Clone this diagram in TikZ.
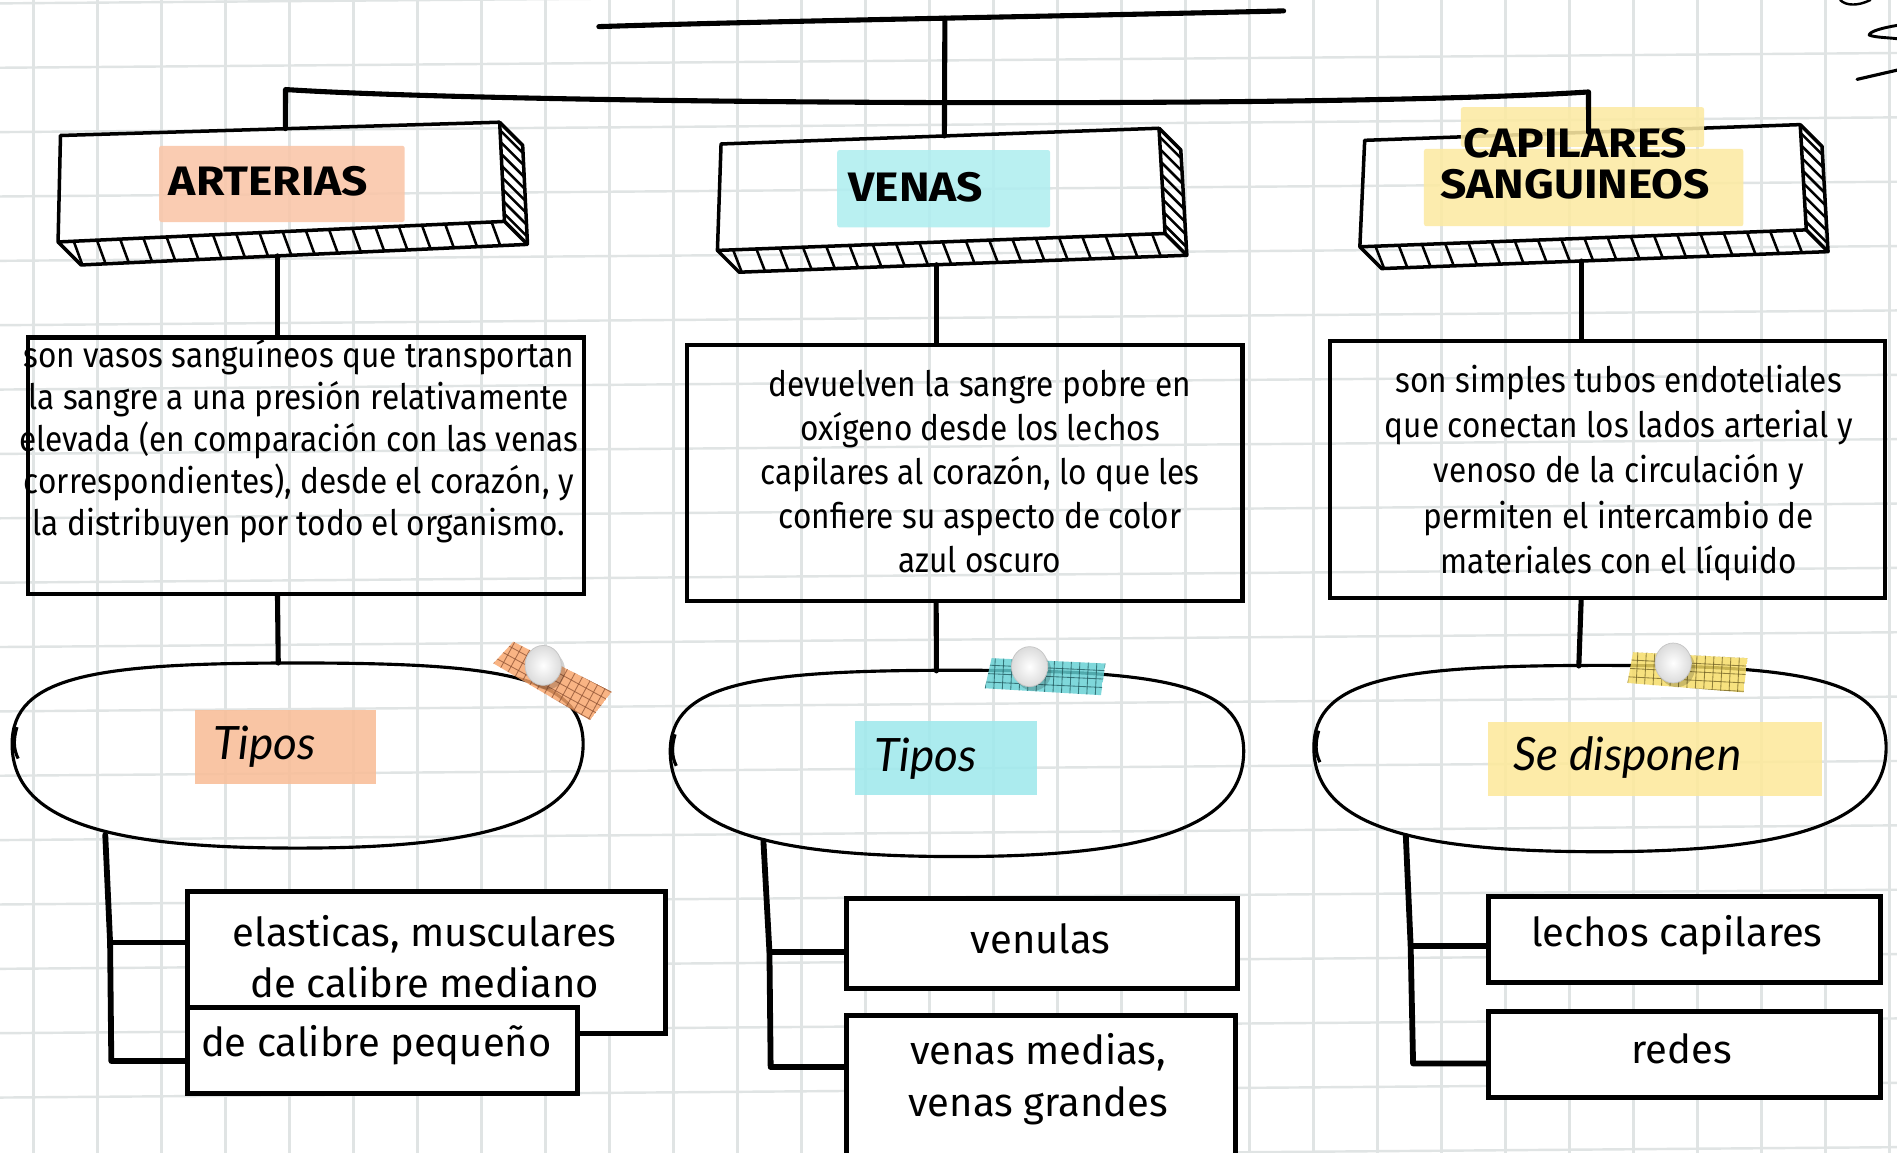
\documentclass[tikz,border=0pt]{standalone}
\usepackage{fontspec}
\newfontfamily\bodyf{Fira Sans}[FakeStretch=0.9]
\newfontfamily\boxf{Fira Sans}
\newfontfamily\titlef{Fira Sans}[FakeStretch=1.12]
\newfontfamily\handf{Lato}
\usetikzlibrary{calc}
\definecolor{gridc}{RGB}{224,228,228}
\definecolor{peach}{RGB}{250,198,168}
\definecolor{peachb}{RGB}{249,190,152}
\definecolor{cyanl}{RGB}{176,238,240}
\definecolor{cyanb}{RGB}{160,233,236}
\definecolor{yell}{RGB}{252,234,163}
\definecolor{yellb}{RGB}{253,233,156}
\definecolor{tapeo}{RGB}{248,164,106}
\definecolor{tapeog}{RGB}{140,80,50}
\definecolor{tapec}{RGB}{100,208,212}
\definecolor{tapecg}{RGB}{30,85,90}
\definecolor{tapey}{RGB}{246,220,100}
\definecolor{tapeyg}{RGB}{110,95,35}

\newcommand\drawslab[7]{%
  \coordinate (#1-tl) at #2; \coordinate (#1-tr) at #3;
  \coordinate (#1-br) at #4; \coordinate (#1-bl) at #5;
  \coordinate (#1-trb) at ($(#1-tr)+(#6,#7)$);
  \coordinate (#1-brb) at ($(#1-br)+(#6,#7)$);
  \coordinate (#1-blb) at ($(#1-bl)+(#6,#7)$);
  \draw[slabline] (#1-tl) -- (#1-tr) -- (#1-br) -- (#1-bl) -- cycle;
  \draw[slabline] (#1-bl) -- (#1-blb) -- (#1-brb) -- (#1-trb) -- (#1-tr);
  \draw[slabline] (#1-br) -- (#1-brb);
  \foreach \hh in {0.035,0.087,...,0.98} \draw[hatchline] ($(#1-bl)!\hh!(#1-br)$) -- ++(7,#7);
  \foreach \hh in {0.08,0.2,...,0.95} \draw[hatchline] ($(#1-tr)!\hh!(#1-br)$) -- ++(#6,#7);
}
\newcommand\drawblob[5]{%
  \draw[blobline] (#1-#3,#2) .. controls (#1-#3,#2-0.85*#4) and (#1-0.7*#3,#2-#4) .. (#1,#2-#4)
     .. controls (#1+0.7*#3,#2-#4) and (#1+#3,#2-0.85*#4) .. (#1+#3,#2)
     .. controls (#1+#3,#2+0.78*#5) and (#1+0.6*#3,#2+#5) .. (#1,#2+#5)
     .. controls (#1-0.6*#3,#2+#5) and (#1-#3,#2+0.8*#5) .. (#1-#3,#2);
  \draw[blobline] (#1-#3+4,#2-14) .. controls (#1-#3+1,#2-4) and (#1-#3+1,#2+4) .. (#1-#3+5,#2+12);
}
\newcommand\drawpin[2]{%
  \fill[black,opacity=0.18] (#1+3,#2+4) ellipse [x radius=15, y radius=16];
  \shade[inner color=white, outer color=gray!28] (#1,#2) ellipse [x radius=15, y radius=16.5];
  \draw[gray!45, line width=0.6pt] (#1,#2) ellipse [x radius=15, y radius=16.5];
}
\newcommand\drawtape[8]{% #1-#4 corners, #5 center, #6 angle, #7 fill, #8 grid colour
  \begin{scope}
    \clip #1 -- #2 -- #3 -- #4 -- cycle;
    \fill[#7, opacity=0.82] #1 -- #2 -- #3 -- #4 -- cycle;
    \begin{scope}[shift={#5}, rotate=#6]
      \foreach \k in {-9,...,9} {
        \draw[#8, line width=0.7pt, opacity=0.75] (\k*7,-40) -- (\k*7,40);
        \draw[#8, line width=0.7pt, opacity=0.75] (-70,\k*7) -- (70,\k*7);
      }
    \end{scope}
  \end{scope}
}

\begin{document}
\begin{tikzpicture}[x=1pt,y=-1pt,
  conn/.style={line width=4.2pt, line cap=round, line join=round},
  brline/.style={line width=4.8pt, line cap=round, line join=round},
  slabline/.style={line width=2.9pt, line join=round},
  hatchline/.style={line width=2.1pt},
  blobline/.style={line width=2.6pt},
  gridline/.style={line width=2pt, color=gridc},
  tbox/.style={draw, line width=3.4pt, inner sep=0pt},
  lbox/.style={draw, fill=white, line width=4.2pt, inner sep=0pt},
  boxtxt/.style={inner sep=0pt, align=center, font=\boxf\fontsize{33}{42}\selectfont},
  lab/.style={rounded corners=2pt, inner sep=0pt, fill opacity=0.88},
  title/.style={inner sep=0pt, font=\titlef\bfseries\fontsize{34}{34}\selectfont, align=center},
  hand/.style={inner sep=0pt, font=\handf\itshape\fontsize{38}{38}\selectfont},
  bodytxt/.style={inner sep=0pt, align=center}
]
\useasboundingbox (0,0) rectangle (1568,953);
\fill[white] (0,0) rectangle (1568,953);
\begin{scope}
  \clip (0,0) rectangle (1568,953);
  \foreach \i in {0,...,29} \draw[gridline] (27.7+52.9*\i,0) -- (27.7+52.9*\i,953);
  \foreach \j in {0,...,18} \draw[gridline] (0,2.8+53.2*\j) -- (1568,2.8+53.2*\j-12.2);
\end{scope}

% title slabs
\drawslab{a}{(50,112)}{(413,101)}{(417,183)}{(48,200)}{19}{19}
\drawslab{v}{(596,119)}{(958,106)}{(963,193)}{(593,207)}{18}{18}
\drawslab{c}{(1128,116)}{(1488,103)}{(1493,190)}{(1124,204)}{18}{18}

% title labels
\node[lab, fill=peach, minimum width=203, minimum height=63] (aLab) at (233,152) {};
\node[title] (aTitle) at (222,150) {ARTERIAS};
\node[lab, fill=cyanl, minimum width=176, minimum height=64] (vLab) at (780,156) {};
\node[title] (vTitle) at (757,155) {VENAS};
\node[lab, fill=yell, minimum width=201, minimum height=33] (cLab1) at (1308,105) {};
\node[lab, fill=yell, minimum width=264, minimum height=64] (cLab2) at (1309,155) {};
\node[title] (cTitle) at (1302,135) {CAPILARES\\SANGUINEOS};

% top connectors
\coordinate (topL) at (495,22);
\coordinate (topR) at (1061,9);
\coordinate (trunkTop) at (781,15);
\draw[conn] (topL) .. controls (650,17) and (900,13) .. (topR);
\coordinate (vTop) at ($(v-tl)!0.51!(v-tr)$);
\draw[conn] (trunkTop) -- (vTop);
\coordinate (aTop) at ($(a-tl)!0.512!(a-tr)$);
\coordinate (cTop) at ($(c-tl)!0.514!(c-tr)$);
\coordinate (aCorner) at (236,74);
\coordinate (cCorner) at (1313,76);
\draw[conn] (aTop) -- (aCorner) .. controls (420,86) and (1100,90) .. (cCorner) -- (cTop);

% definition boxes
\node[tbox, minimum width=460, minimum height=212] (aBox) at (253,385) {};
\node[tbox, minimum width=459, minimum height=212] (vBox) at (797.5,391) {};
\node[tbox, minimum width=459, minimum height=212] (cBox) at (1328.5,388) {};

\node[bodytxt, font=\bodyf\fontsize{29}{34.7}\selectfont] (aTxt) at (247,365)
  {son vasos sanguíneos que transportan\\la sangre a una presión relativamente\\elevada (en comparación con las venas\\correspondientes), desde el corazón, y\\la distribuyen por todo el organismo.};
\node[bodytxt, font=\bodyf\fontsize{29}{36.3}\selectfont] (vTxt) at (810,389.5)
  {devuelven la sangre pobre en\\oxígeno desde los lechos\\capilares al corazón, lo que les\\confiere su aspecto de color\\azul oscuro};
\node[bodytxt, font=\bodyf\fontsize{29}{37.3}\selectfont] (cTxt) at (1338,391)
  {son simples tubos endoteliales\\que conectan los lados arterial y\\venoso de la circulación y\\permiten el intercambio de\\materiales con el líquido};

% slab -> box connectors
\coordinate (aBot) at ($(a-blb)!0.44!(a-brb)$);
\coordinate (vBot) at ($(v-blb)!0.44!(v-brb)$);
\coordinate (cBot) at ($(c-blb)!0.447!(c-brb)$);
\draw[conn] (aBot) -- (aBox.north -| aBot);
\draw[conn] (vBot) -- (vBox.north -| vBot);
\draw[conn] (cBot) -- (cBox.north -| cBot);

% blobs
\drawblob{246}{615}{236}{67}{86}
\drawblob{791}{621}{237}{67}{87}
\drawblob{1322.5}{618}{236.5}{68}{86}
\coordinate (aEtop) at (230,548);
\coordinate (vEtop) at (774,554.5);
\coordinate (cEtop) at (1305,550.5);
\draw[conn] (aBox.south -| aBot) -- (aEtop);
\draw[conn] (vBox.south -| vBot) -- (vEtop);
\draw[conn] (cBox.south -| cBot) -- (cEtop);

\node[lab, fill=peachb, minimum width=150, minimum height=61, rounded corners=0pt] (aHl) at (236,617.5) {};
\node[hand] (aHand) at (219,617) {Tipos};
\node[lab, fill=cyanb, minimum width=150, minimum height=61, rounded corners=0pt] (vHl) at (781.75,626.5) {};
\node[hand] (vHand) at (765,627) {Tipos};
\node[lab, fill=yellb, minimum width=276, minimum height=61, rounded corners=0pt] (cHl) at (1367.8,627.5) {};
\node[hand] (cHand) at (1345,626) {Se disponen};

% tapes and pins
\drawtape{(407.8,548.3)}{(424.3,530.4)}{(505.6,571.8)}{(487.7,595.2)}{(456.5,561.5)}{-28.6}{tapeo}{tapeog}
\drawpin{449}{550}
\drawtape{(819.6,544)}{(913.7,548.4)}{(910,574.6)}{(814,568.9)}{(864,559)}{-2.7}{tapec}{tapecg}
\drawpin{851}{551}
\drawtape{(1349.8,539.1)}{(1444.3,544)}{(1441.2,572.3)}{(1345.2,564.5)}{(1395,555)}{-3}{tapey}{tapeyg}
\drawpin{1383}{548}

% sub branches
\coordinate (aEbl) at (87,690); \coordinate (aJ1) at (91,779); \coordinate (aJ2) at (92,877);
\coordinate (vEbl) at (631,695); \coordinate (vJ1) at (636,787); \coordinate (vJ2) at (637,882);
\coordinate (cEbl) at (1162,691); \coordinate (cJ1) at (1166,782); \coordinate (cJ2) at (1168,879);

\node[lbox, minimum width=395, minimum height=117] (aB1) at (352.5,795.5) {};
\node[boxtxt] (aB1t) at (351,791) {elasticas, musculares\\de calibre mediano};
\node[lbox, minimum width=322, minimum height=71] (aB2) at (316,868.5) {};
\node[boxtxt] (aB2t) at (311,864) {de calibre pequeño};
\node[lbox, minimum width=323, minimum height=74] (vB1) at (861.5,780) {};
\node[boxtxt] (vB1t) at (860,776) {venulas};
\node[lbox, minimum width=321, minimum height=119] (vB2) at (860.5,898.5) {};
\node[boxtxt, font=\boxf\fontsize{33}{43}\selectfont] (vB2t) at (858,892) {venas medias,\\venas grandes};
\node[lbox, minimum width=324, minimum height=71] (cB1) at (1392,776.5) {};
\node[boxtxt] (cB1t) at (1386,773) {lechos capilares};
\node[lbox, minimum width=324, minimum height=71] (cB2) at (1392,871.5) {};
\node[boxtxt] (cB2t) at (1390,867) {redes};

\draw[brline] (aEbl) -- (aJ1) -- (aJ2) -- (aB2.west |- aJ2);
\draw[brline] (aJ1) -- (aB1.west |- aJ1);
\draw[brline] (vEbl) -- (vJ1) -- (vJ2) -- (vB2.west |- vJ2);
\draw[brline] (vJ1) -- (vB1.west |- vJ1);
\draw[brline] (cEbl) -- (cJ1) -- (cJ2) -- (cB2.west |- cJ2);
\draw[brline] (cJ1) -- (cB1.west |- cJ1);

% scribbles top right
\coordinate (s1a) at (1521,0); \coordinate (s1b) at (1546,0);
\draw[line width=2pt, line cap=round] (s1a) .. controls (1526,5) and (1536,5) .. (s1b);
\coordinate (s2a) at (1568,21); \coordinate (s2b) at (1545,29); \coordinate (s2c) at (1568,32);
\draw[line width=2.4pt, line cap=round, line join=round] (s2a) .. controls (1556,23) and (1545,26) .. (s2b) .. controls (1550,31) and (1560,31) .. (s2c);
\coordinate (s3a) at (1535,65.6); \coordinate (s3b) at (1568,58);
\draw[line width=2.6pt, line cap=round] (s3a) -- (s3b);
\end{tikzpicture}
\end{document}
